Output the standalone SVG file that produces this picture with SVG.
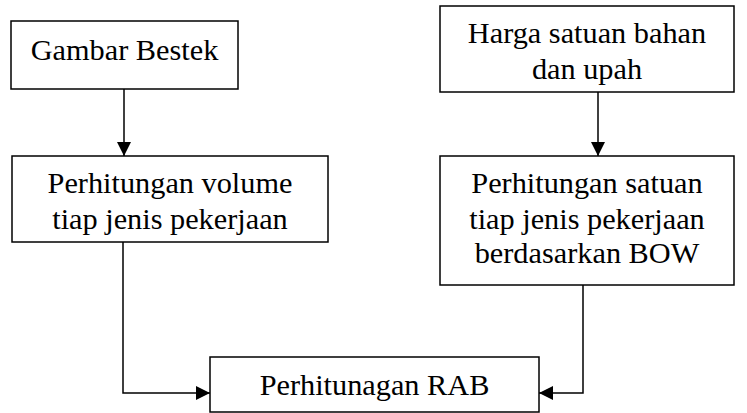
<svg xmlns="http://www.w3.org/2000/svg" width="747" height="413" viewBox="0 0 747 413">
<style>
.box{fill:#fff;stroke:#000;stroke-width:1.5}
.t{font-family:"Liberation Serif","Times New Roman",serif;font-size:30.3px;fill:#000;text-anchor:middle}
.c{fill:none;stroke:#000;stroke-width:1.5}
</style>
<defs>
<marker id="ah" viewBox="0 0 14 14" refX="14" refY="7" markerWidth="14" markerHeight="14" markerUnits="userSpaceOnUse" orient="auto">
<path d="M0,0 L14,7 L0,14 Z" fill="#000"/>
</marker>
</defs>
<g id="connectors">
<path class="c" d="M124,89 V156" marker-end="url(#ah)"/>
<path class="c" d="M598,92 V156" marker-end="url(#ah)"/>
<path class="c" d="M123,242 V393 H210" marker-end="url(#ah)"/>
<path class="c" d="M583,285 V393 H539" marker-end="url(#ah)"/>
</g>
<g id="n1"><rect class="box" x="11" y="21" width="227" height="68"/><text class="t" x="124.5" y="60">Gambar Bestek</text></g>
<g id="n2"><rect class="box" x="12" y="156" width="316" height="86"/><text class="t" x="170" y="193">Perhitungan volume</text><text class="t" x="170" y="229">tiap jenis pekerjaan</text></g>
<g id="n3"><rect class="box" x="440" y="6" width="294" height="86"/><text class="t" x="587" y="43">Harga satuan bahan</text><text class="t" x="587" y="79">dan upah</text></g>
<g id="n4"><rect class="box" x="440" y="156" width="294" height="129"/><text class="t" x="587" y="193">Perhitungan satuan</text><text class="t" x="587" y="229">tiap jenis pekerjaan</text><text class="t" x="587" y="263">berdasarkan BOW</text></g>
<g id="n5"><rect class="box" x="210" y="357" width="329" height="55"/><text class="t" x="374.5" y="395">Perhitunagan RAB</text></g>
</svg>
